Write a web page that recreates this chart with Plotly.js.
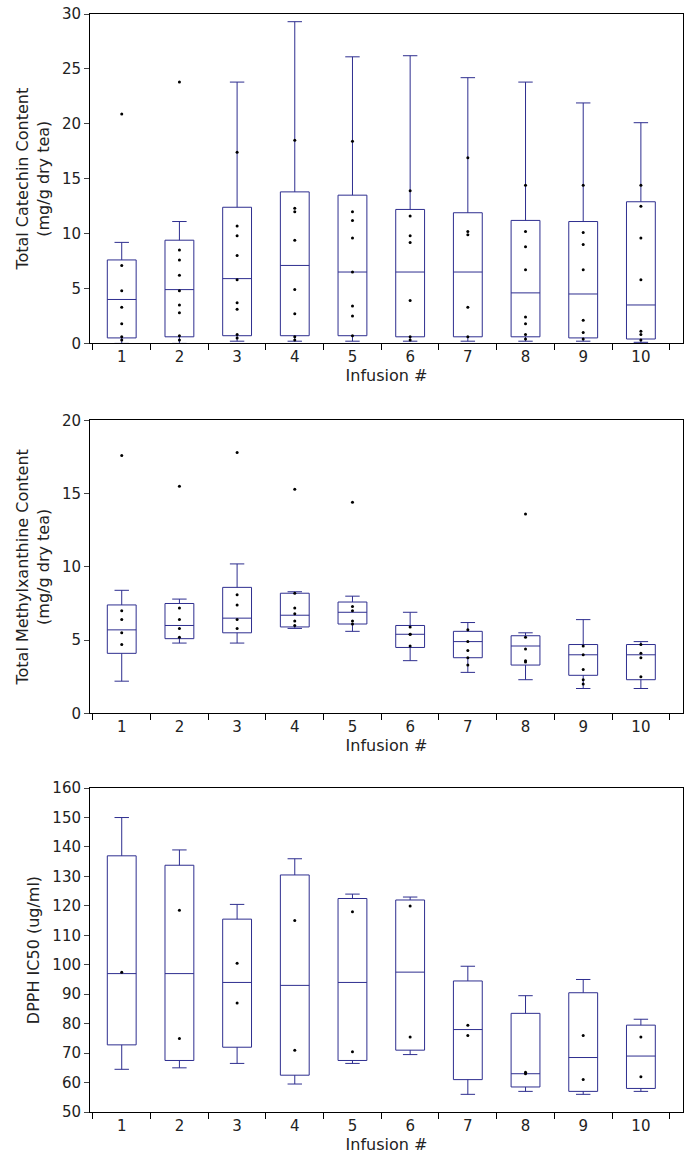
<!DOCTYPE html>
<html>
<head>
<script src="https://cdn.plot.ly/plotly-3.0.1.min.js"></script>
<style>body{margin:0;background:#fff}</style>
</head>
<body>
<div id="chart" style="width:688px;height:1166px"></div>
<script>
const infusion = [1, 2, 3, 4, 5, 6, 7, 8, 9, 10];

// Total catechin (mg/g dry tea)
const cat_low = [0, 0, 0.2, 0.2, 0.2, 0.2, 0.2, 0.2, 0.2, 0.1];
const cat_q1 = [0.5, 0.6, 0.7, 0.7, 0.7, 0.6, 0.6, 0.6, 0.5, 0.4];
const cat_med = [4, 4.9, 5.9, 7.1, 6.5, 6.5, 6.5, 4.6, 4.5, 3.5];
const cat_q3 = [7.6, 9.4, 12.4, 13.8, 13.5, 12.2, 11.9, 11.2, 11.1, 12.9];
const cat_high = [9.2, 11.1, 23.8, 29.3, 26.1, 26.2, 24.2, 23.8, 21.9, 20.1];
const cat_pts = [
  [20.9, 7.1, 4.8, 3.3, 1.8, 0.6, 0.3],
  [23.8, 8.5, 7.6, 6.2, 4.8, 3.5, 2.8, 0.7, 0.3],
  [17.4, 10.7, 9.8, 8.0, 5.8, 3.7, 3.1, 0.8, 0.5],
  [18.5, 12.3, 12.0, 9.4, 4.9, 2.7, 0.6, 0.3],
  [18.4, 12.0, 11.2, 9.6, 6.5, 3.4, 2.5, 0.7],
  [13.9, 11.6, 9.8, 9.2, 3.9, 0.6, 0.3],
  [16.9, 10.2, 9.9, 3.3, 0.6],
  [14.4, 10.2, 8.8, 6.7, 2.4, 1.8, 0.8, 0.4],
  [14.4, 10.1, 9.0, 6.7, 2.1, 1.0, 0.4],
  [14.4, 12.5, 9.6, 5.8, 1.1, 0.8, 0.3]
];

// Total methylxanthine (mg/g dry tea)
const mx_low = [2.2, 4.8, 4.8, 5.8, 5.6, 3.6, 2.8, 2.3, 1.7, 1.7];
const mx_q1 = [4.1, 5.1, 5.5, 5.9, 6.1, 4.5, 3.8, 3.3, 2.6, 2.3];
const mx_med = [5.7, 6.0, 6.5, 6.7, 6.9, 5.4, 4.9, 4.6, 4.0, 4.0];
const mx_q3 = [7.4, 7.5, 8.6, 8.2, 7.6, 6.0, 5.6, 5.3, 4.7, 4.7];
const mx_high = [8.4, 7.8, 10.2, 8.3, 8.0, 6.9, 6.2, 5.5, 6.4, 4.9];
const mx_pts = [
  [17.6, 7.0, 6.4, 5.5, 4.7],
  [15.5, 7.2, 6.4, 5.8, 5.2],
  [17.8, 8.1, 7.4, 6.4, 5.8],
  [15.3, 8.2, 7.2, 6.8, 6.3, 6.0],
  [14.4, 7.3, 7.0, 6.3, 6.1],
  [5.9, 5.4, 5.4, 4.6],
  [5.7, 4.9, 4.3, 3.8, 3.3],
  [13.6, 5.2, 4.4, 3.6, 3.5],
  [4.6, 4.0, 3.0, 2.3, 2.0],
  [4.7, 4.1, 3.8, 2.5]
];

// DPPH IC50 (ug/ml)
const ic_low = [64.5, 65, 66.5, 59.5, 66.5, 69.5, 56, 57, 56, 57];
const ic_q1 = [72.8, 67.5, 72, 62.5, 67.5, 71, 61, 58.5, 57, 58];
const ic_med = [97, 97, 94, 93, 94, 97.5, 78, 63, 68.5, 69];
const ic_q3 = [137, 133.8, 115.5, 130.5, 122.5, 122, 94.5, 83.5, 90.5, 79.5];
const ic_high = [150, 139, 120.5, 136, 124, 123, 99.5, 89.5, 95, 81.5];
const ic_pts = [
  [97.5], [118.5, 75], [100.5, 87], [115, 71], [118, 70.5],
  [120, 75.5], [79.5, 76], [63.5, 63], [76, 61], [75.5, 62]
];

const navy = '#2e2e8f';
const data = [];
function addSet(n, low, q1, med, q3, high, pts) {
  const ax = n === 1 ? '' : String(n);
  data.push({
    type: 'box', x: infusion, lowerfence: low, q1: q1, median: med, q3: q3, upperfence: high,
    xaxis: 'x' + ax, yaxis: 'y' + ax, width: 0.5, whiskerwidth: 0.5,
    line: {color: navy, width: 1}, fillcolor: 'rgba(0,0,0,0)', boxpoints: false, hoverinfo: 'skip'
  });
  const px = [], py = [];
  pts.forEach((arr, i) => arr.forEach(v => { px.push(infusion[i]); py.push(v); }));
  data.push({
    type: 'scatter', mode: 'markers', x: px, y: py, xaxis: 'x' + ax, yaxis: 'y' + ax,
    marker: {color: '#000', size: 3}
  });
}
addSet(1, cat_low, cat_q1, cat_med, cat_q3, cat_high, cat_pts);
addSet(2, mx_low, mx_q1, mx_med, mx_q3, mx_high, mx_pts);
addSet(3, ic_low, ic_q1, ic_med, ic_q3, ic_high, ic_pts);

function xa(anchor) {
  return {
    anchor: anchor, range: [0.45, 10.73], tickvals: infusion, ticks: '',
    minor: {tick0: 0.5, dtick: 1, ticks: 'outside', ticklen: 6, tickcolor: '#000'},
    showline: true, mirror: true, linecolor: '#000', showgrid: false, zeroline: false,
    tickfont: {size: 15}, title: {text: 'Infusion #', standoff: 4}
  };
}
function ya(anchor, dom, range, dtick, title) {
  return {
    anchor: anchor, domain: dom, range: range, dtick: dtick, ticks: 'outside', ticklen: 5,
    showline: true, mirror: true, linecolor: '#000', showgrid: false, zeroline: false,
    tickfont: {size: 15}, title: {text: title, standoff: 8}
  };
}
const layout = {
  width: 688, height: 1166, showlegend: false,
  margin: {l: 90, r: 5, t: 14, b: 54},
  font: {family: 'DejaVu Sans, sans-serif', size: 13, color: '#222'},
  paper_bgcolor: '#fff', plot_bgcolor: '#fff',
  xaxis: xa('y'), xaxis2: xa('y2'), xaxis3: xa('y3'),
  yaxis: ya('x', [0.700, 1], [0, 30], 5, 'Total Catechin Content<br>(mg/g dry tea)'),
  yaxis2: ya('x2', [0.363, 0.630], [0, 20], 5, 'Total Methylxanthine Content<br>(mg/g dry tea)'),
  yaxis3: ya('x3', [0, 0.295], [50, 160], 10, 'DPPH IC50 (ug/ml)')
};
Plotly.newPlot('chart', data, layout, {displayModeBar: false});
</script>
</body>
</html>
